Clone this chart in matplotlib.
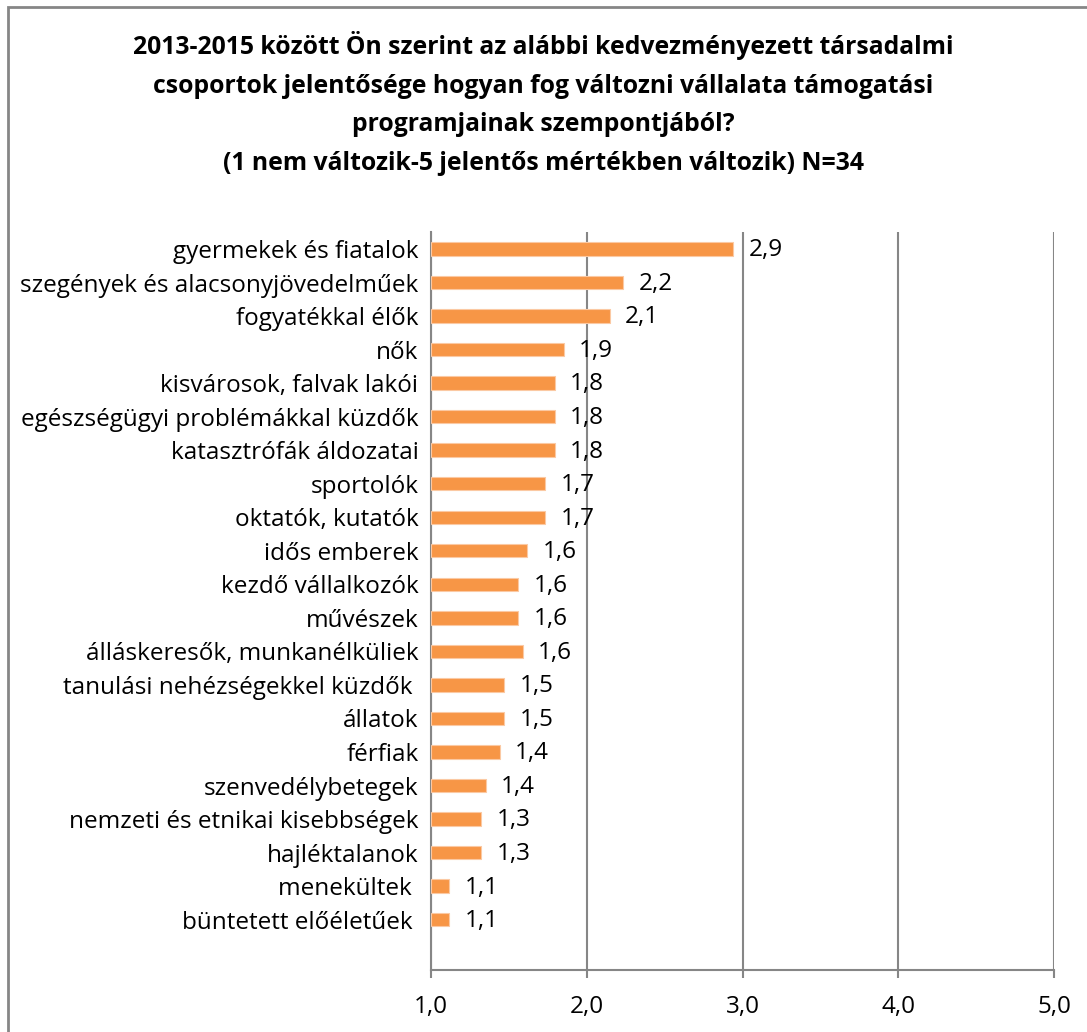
import matplotlib
matplotlib.use("Agg")
import matplotlib.pyplot as plt
from matplotlib.patches import Rectangle

plt.rcParams['font.family'] = ['Open Sans', 'DejaVu Sans']

# categories, top to bottom
categories = [
    "gyermekek és fiatalok",
    "szegények és alacsonyjövedelműek",
    "fogyatékkal élők",
    "nők",
    "kisvárosok, falvak lakói",
    "egészségügyi problémákkal küzdők",
    "katasztrófák áldozatai",
    "sportolók",
    "oktatók, kutatók",
    "idős emberek",
    "kezdő vállalkozók",
    "művészek",
    "álláskeresők, munkanélküliek",
    "tanulási nehézségekkel küzdők ",
    "állatok",
    "férfiak",
    "szenvedélybetegek",
    "nemzeti és etnikai kisebbségek",
    "hajléktalanok",
    "menekültek ",
    "büntetett előéletűek ",
]
# mean scores (1-5 scale)
values = [2.941, 2.235, 2.147, 1.853, 1.794, 1.794, 1.794, 1.735, 1.735,
          1.618, 1.559, 1.559, 1.588, 1.471, 1.471, 1.441, 1.353, 1.324,
          1.324, 1.118, 1.118]
xticks = [1.0, 2.0, 3.0, 4.0, 5.0]

title = ("2013-2015 között Ön szerint az alábbi kedvezményezett társadalmi\n"
         "csoportok jelentősége hogyan fog változni vállalata támogatási\n"
         "programjainak szempontjából?\n"
         "(1 nem változik-5 jelentős mértékben változik) N=34")

orange = "#F79646"
grey = "#868686"

fig = plt.figure(figsize=(10.87, 10.32), dpi=100)
ax = fig.add_axes([0.3965, 0.0601, 0.5732, 0.7149])

ypos = list(range(len(categories)))
base = xticks[0]
ax.barh(ypos, [v - base for v in values], left=base, height=0.4,
        color=orange, edgecolor="#FBC9A3", linewidth=0.8, zorder=3)

for y, v in zip(ypos, values):
    ax.annotate(f"{v:.1f}".replace(".", ","), (v, y), xytext=(11, -1),
                textcoords="offset points", va="center", ha="left",
                fontsize=17.5, color="black", zorder=4)

ax.set_xlim(1.0, 5.0)
ax.set_ylim(len(categories) + 0.5, -0.5)
ax.set_xticks(xticks)
ax.set_xticklabels([f"{t:.1f}".replace(".", ",") for t in xticks], fontsize=17.5)
ax.set_yticks(ypos)
ax.set_yticklabels(categories, fontsize=17.5)
ax.tick_params(axis="y", length=0, pad=9)
ax.tick_params(axis="x", length=6, width=1.5, color=grey, pad=12)
ax.xaxis.grid(True, color=grey, linewidth=1.5, zorder=0)
for s in ["top", "right"]:
    ax.spines[s].set_visible(False)
for s in ["left", "bottom"]:
    ax.spines[s].set_color(grey)
    ax.spines[s].set_linewidth(1.5)

fig.text(0.5, 0.970, title, ha="center", va="top", fontsize=17.8,
         fontweight="bold", linespacing=1.72)

# chart area border (only top and left edges are inside the image)
fig.add_artist(Rectangle((8 / 1087, -0.1), 1.2, 1.1 - 7 / 1032,
                         transform=fig.transFigure, fill=False,
                         edgecolor=grey, linewidth=2))

fig.savefig("out.png", dpi=100)
